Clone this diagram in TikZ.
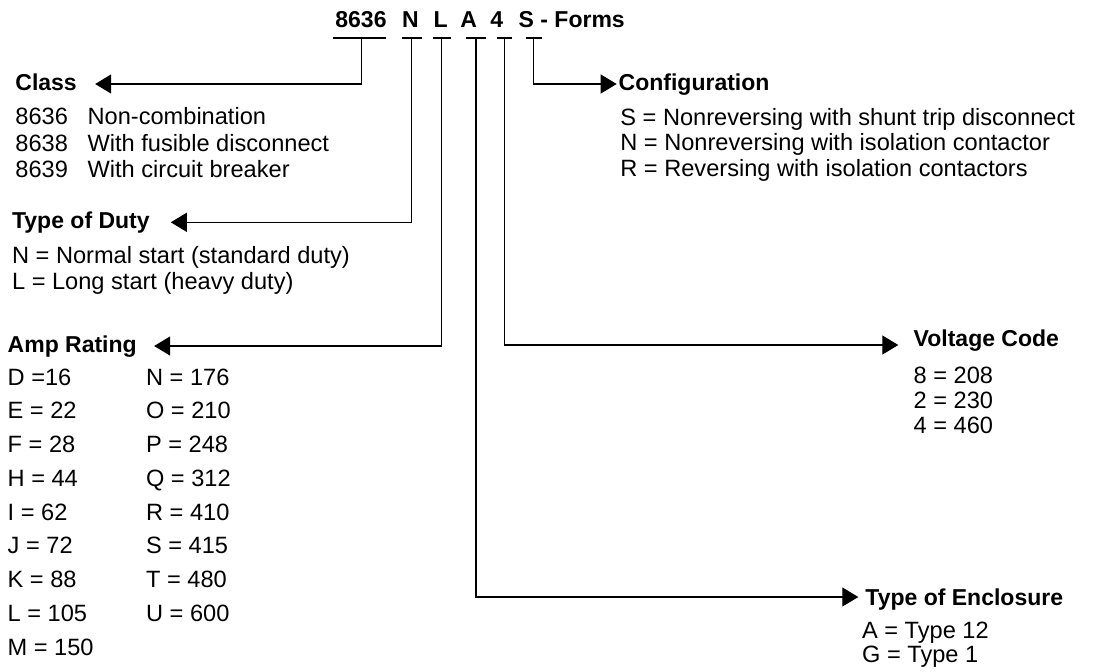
\documentclass[tikz,border=0pt]{standalone}
\usepackage{fontspec}
\setmainfont{Liberation Sans}
\usetikzlibrary{arrows.meta, calc}

\begin{document}
\begin{tikzpicture}[
    x=0.5pt, y=-0.5pt,
    >={Triangle[length=8pt, width=9.5pt]},
    every node/.style={inner sep=0pt},
    codetext/.style={anchor=base west, font=\fontsize{11.5}{13.8}\selectfont\bfseries},
    codebar/.style={fill=black, minimum height=1pt},
    heading/.style={anchor=base west, font=\fontsize{11.5}{13.8}\selectfont\bfseries,
        text height=8pt, text depth=2pt},
    itemlist/.style={anchor=base west, align=left},
    arrow/.style={->, line width=0.6pt},
]

\useasboundingbox (0,0) rectangle (1095,671);

% === CATALOG NUMBER ===
\node[codetext] (codeclass) at (335,27.7) {8636};
\node[codetext] (codeduty) at (401.7,27.7) {N};
\node[codetext] (codeamp) at (433.3,27.7) {L};
\node[codetext] (codeencl) at (460,27.7) {A};
\node[codetext] (codevolt) at (490,27.7) {4};
\node[codetext] (codeconf) at (518.3,27.7) {S - Forms};

% Underline bars
\node[codebar, minimum width=26.5pt] (barclass) at (359.5,37.7) {};
\node[codebar, minimum width=10pt] (barduty) at (411.7,37.7) {};
\node[codebar, minimum width=9pt] (baramp) at (441.7,37.7) {};
\node[codebar, minimum width=9.75pt] (barencl) at (476,37.7) {};
\node[codebar, minimum width=7.5pt] (barvolt) at (504.3,37.7) {};
\node[codebar, minimum width=8pt] (barconf) at (533.5,37.7) {};

% === LEFT SIDE ===
% (lists are placed by the baseline of their last line)
\node[heading] (classhead) at (15,90) {Class};
\node[itemlist, font=\fontsize{11.8}{13.08}\selectfont] (classlist) at (15,177.3)
    {\makebox[36.15pt][l]{8636}Non-combination\\
     \makebox[36.15pt][l]{8638}With fusible disconnect\\
     \makebox[36.15pt][l]{8639}With circuit breaker};

\node[heading] (dutyhead) at (11.7,228.3) {Type of Duty};
\node[itemlist, font=\fontsize{11.8}{13}\selectfont] (dutylist) at (11.7,289.3)
    {N = Normal start (standard duty)\\
     L = Long start (heavy duty)};

\node[heading] (amphead) at (7.3,352) {Amp Rating};
\node[itemlist, font=\fontsize{11.8}{16.875}\selectfont] (amplist) at (7.3,655)
    {\makebox[69.2pt][l]{D =16}N = 176\\
     \makebox[69.2pt][l]{E = 22}O = 210\\
     \makebox[69.2pt][l]{F = 28}P = 248\\
     \makebox[69.2pt][l]{H = 44}Q = 312\\
     \makebox[69.2pt][l]{I = 62}R = 410\\
     \makebox[69.2pt][l]{J = 72}S = 415\\
     \makebox[69.2pt][l]{K = 88}T = 480\\
     \makebox[69.2pt][l]{L = 105}U = 600\\
     M = 150};

% === RIGHT SIDE ===
\node[heading] (confhead) at (618.3,90) {Configuration};
\node[itemlist, font=\fontsize{11.8}{12.9}\selectfont] (conflist) at (620,176.7)
    {S = Nonreversing with shunt trip disconnect\\
     N = Nonreversing with isolation contactor\\
     R = Reversing with isolation contactors};

\node[heading] (volthead) at (913.3,346.7) {Voltage Code};
\node[itemlist, font=\fontsize{11.8}{12.5}\selectfont] (voltlist) at (913.3,433.3)
    {8 = 208\\
     2 = 230\\
     4 = 460};

\node[heading] (enclhead) at (865,605) {Type of Enclosure};
\node[itemlist, font=\fontsize{11.8}{12.2}\selectfont] (encllist) at (861.7,662.7)
    {A = Type 12\\
     G = Type 1};

% === ARROWS ===
\draw[arrow] ([xshift=1pt]barclass.south) |- ($(classhead.east)+(18,0)$);
\draw[arrow] (barduty.south) |- ($(dutyhead.east)+(20.7,0)$);
\draw[arrow] (baramp.south) |- ($(amphead.east)+(17,0)$);
\draw[arrow] (barconf.south) |- ($(confhead.west)+(-1.6,0)$);
\draw[arrow] (barvolt.south) |- ($(volthead.west)+(-15,4.3)$);
\draw[arrow] (barencl.south) |- ($(enclhead.west)+(-6.7,-2)$);

\end{tikzpicture}
\end{document}
